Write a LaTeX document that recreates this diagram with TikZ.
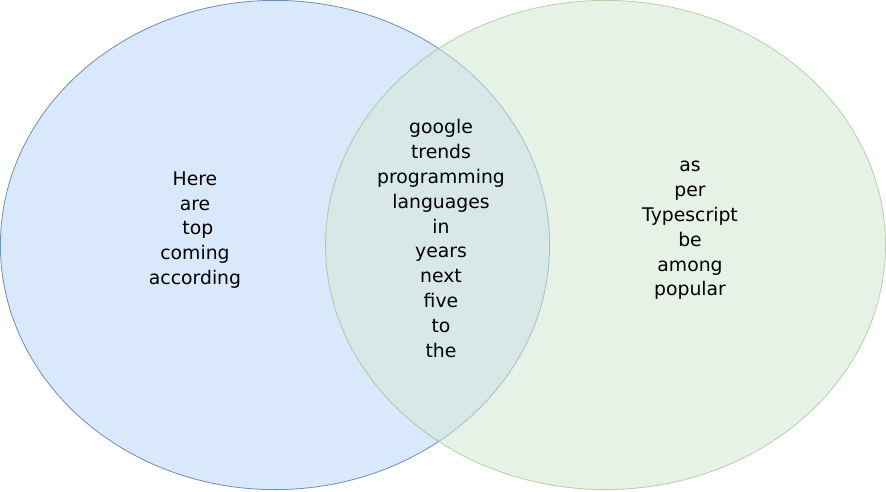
\documentclass[tikz,border=0pt]{standalone}
\usepackage{fontspec}
\setmainfont{DejaVu Sans}
\definecolor{bluefill}{HTML}{DAE8FC}
\definecolor{bluedraw}{HTML}{6C8EBF}
\definecolor{greenfill}{HTML}{D5E8D4}
\definecolor{greendraw}{HTML}{82B366}
\begin{document}
\begin{tikzpicture}[x=1pt,y=-1pt,
  setlabel/.style={align=center,font=\fontsize{18.8}{24.8}\selectfont,text=black,inner sep=0pt},
  bluecirc/.style={fill=bluefill,draw=bluedraw,line width=0.8pt},
  greencirc/.style={fill=greenfill,draw=greendraw,line width=0.8pt,opacity=0.55}]
\useasboundingbox (0,0) rectangle (886,491);
\fill[white] (0,0) rectangle (886,491);
\path[bluecirc] (275,245) ellipse [x radius=274.6, y radius=244.6];
\path[greencirc] (605.5,245) ellipse [x radius=280, y radius=244.6];
\node[setlabel] (left) at (195,230) {Here\\are\\\hspace*{0.3em}top\\coming\\according};
\node[setlabel] (mid) at (441,238.5) {google\\trends\\programming\\languages\\in\\years\\next\\five\\to\\the};
\node[setlabel] (right) at (690,230.5) {as\\per\\Typescript\\be\\among\\popular};
\end{tikzpicture}
\end{document}
